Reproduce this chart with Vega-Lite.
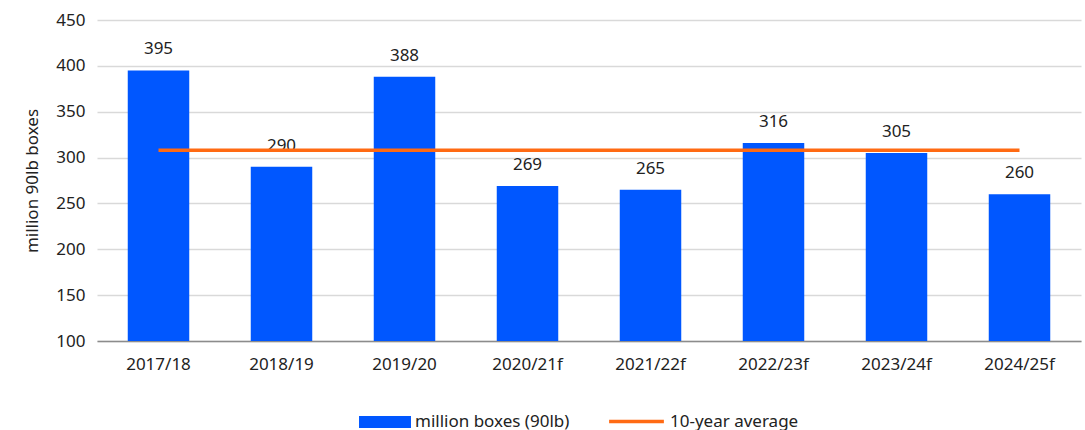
{
  "$schema": "https://vega.github.io/schema/vega-lite/v6.json",
  "autosize": "none",
  "width": 984,
  "height": 321,
  "padding": {"left": 97, "top": 20, "right": 4, "bottom": 89},
  "background": "white",
  "config": {
    "font": "Noto Sans",
    "view": {"stroke": null},
    "axisY": {"title": "million 90lb boxes", "titleFontSize": 17, "titleFontWeight": "normal", "titleColor": "#222", "titlePadding": 14, "labelFontSize": 17, "labelColor": "#222", "labelPadding": 12, "ticks": false, "domain": false, "gridColor": "#d9d9d9", "gridWidth": 1.5}
  },
  "data": {
    "values": [
      {"season": "2017/18", "value": 395, "avg": 308},
      {"season": "2018/19", "value": 290, "avg": 308},
      {"season": "2019/20", "value": 388, "avg": 308},
      {"season": "2020/21f", "value": 269, "avg": 308},
      {"season": "2021/22f", "value": 265, "avg": 308},
      {"season": "2022/23f", "value": 316, "avg": 308},
      {"season": "2023/24f", "value": 305, "avg": 308},
      {"season": "2024/25f", "value": 260, "avg": 308}
    ]
  },
  "encoding": {
    "x": {
      "field": "season", "type": "nominal", "sort": null,
      "scale": {"paddingInner": 0.5, "paddingOuter": 0.25},
      "axis": {"title": null, "labelAngle": 0, "labelFontSize": 17, "labelColor": "#222", "labelPadding": 15, "ticks": false, "domainColor": "#8c8c8c", "domainWidth": 1.5}
    },
    "y": {
      "field": "value", "type": "quantitative",
      "scale": {"domain": [100, 450], "zero": false, "nice": false, "clamp": true},
      "axis": {"title": "million 90lb boxes", "values": [100,150,200,250,300,350,400,450]}
    }
  },
  "layer": [
    {
      "mark": {"type": "bar", "color": "#0057ff"},
      "encoding": {
        "fill": {
          "datum": "million boxes (90lb)", "type": "nominal",
          "scale": {"domain": ["million boxes (90lb)"], "range": ["#0057ff"]},
          "legend": {"title": null, "orient": "none", "legendX": 262, "legendY": 376, "symbolType": "M-1,-0.23L1,-0.23L1,0.23L-1,0.23Z", "symbolSize": 2700, "symbolStrokeWidth": 0, "labelFontSize": 17, "labelColor": "#222", "labelOffset": 4, "labelLimit": 400}
        }
      }
    },
    {
      "mark": {"type": "text", "baseline": "bottom", "dy": -12, "fontSize": 17, "color": "#222"},
      "encoding": {
        "text": {"field": "value", "type": "quantitative"}
      }
    },
    {
      "mark": {"type": "line", "strokeWidth": 3.5},
      "encoding": {
        "y": {"field": "avg", "type": "quantitative", "axis": {"title": "million 90lb boxes", "values": [100,150,200,250,300,350,400,450]}},
        "stroke": {
          "datum": "10-year average", "type": "nominal",
          "scale": {"domain": ["10-year average"], "range": ["#ff6a13"]},
          "legend": {"title": null, "orient": "none", "legendX": 510, "legendY": 372, "symbolType": "stroke", "symbolSize": 3000, "symbolStrokeWidth": 3.5, "labelFontSize": 17, "labelColor": "#222", "labelOffset": 4, "labelLimit": 400}
        }
      }
    }
  ],
  "resolve": {"scale": {"fill": "independent", "stroke": "independent"}}
}
